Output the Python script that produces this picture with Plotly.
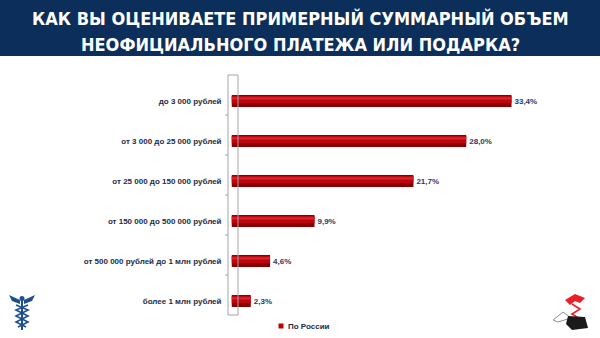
import plotly.graph_objects as go

# Survey answers: estimated total size of an informal payment or gift
categories = [
    "до 3 000 рублей",
    "от 3 000 до 25 000 рублей",
    "от 25 000 до 150 000 рублей",
    "от 150 000 до 500 000 рублей",
    "от 500 000 рублей до 1 млн рублей",
    "более 1 млн рублей",
]
values = [33.4, 28.0, 21.7, 9.9, 4.6, 2.3]
series_name = "По России"
title_lines = ["КАК ВЫ ОЦЕНИВАЕТЕ ПРИМЕРНЫЙ СУММАРНЫЙ ОБЪЕМ",
               "НЕОФИЦИАЛЬНОГО ПЛАТЕЖА ИЛИ ПОДАРКА?"]

W, H = 600, 338
NAVY = "#0b2f5a"
LABEL = "#1c2b48"
VALUE = "#1f3a70"

def px_x(x):
    return x / W

def px_y(y):
    return 1 - y / H

fig = go.Figure()

# cylinder body (dark edge)
fig.add_trace(go.Bar(
    y=categories, x=values, orientation="h",
    marker=dict(color="#8a0000", line=dict(width=0)),
    width=0.30, offset=-0.15,
    text=[f"{v:.1f}%".replace(".", ",") for v in values],
    textposition="outside", cliponaxis=False,
    textfont=dict(family="Liberation Sans", size=8, color=VALUE, weight="bold"),
    hoverinfo="skip", showlegend=False,
))
# cylinder mid tone
fig.add_trace(go.Bar(
    y=categories, x=values, orientation="h",
    marker=dict(color="#bb0610", line=dict(width=0)),
    width=0.18, offset=-0.125,
    hoverinfo="skip", showlegend=False,
))
# cylinder highlight
fig.add_trace(go.Bar(
    y=categories, x=values, orientation="h",
    marker=dict(color="#d8262c", line=dict(width=0)),
    width=0.06, offset=-0.095,
    hoverinfo="skip", showlegend=False,
))

x0_px, x_end_px = 231.5, 600
px_per_unit = (511.5 - x0_px) / 33.4
x_max = (x_end_px - x0_px) / px_per_unit

shapes = []
# title banner
shapes.append(dict(type="rect", xref="paper", yref="paper",
                   x0=0, x1=1, y0=px_y(56), y1=1,
                   fillcolor=NAVY, line=dict(width=0), layer="below"))
# 3D wall of the category axis
wall = dict(xref="paper", yref="paper", line=dict(color="#a6a6a6", width=1))
shapes.append(dict(type="line", x0=px_x(228), x1=px_x(228), y0=px_y(75), y1=px_y(315), **wall))
shapes.append(dict(type="line", x0=px_x(238), x1=px_x(238), y0=px_y(75), y1=px_y(315), **wall))
shapes.append(dict(type="line", x0=px_x(228), x1=px_x(238), y0=px_y(75), y1=px_y(75), **wall))
shapes.append(dict(type="line", x0=px_x(228), x1=px_x(238), y0=px_y(315), y1=px_y(315), **wall))
for ty in [115, 155, 195, 235, 275]:
    shapes.append(dict(type="line", x0=px_x(225), x1=px_x(228), y0=px_y(ty), y1=px_y(ty),
                       xref="paper", yref="paper", line=dict(color="#a6a6a6", width=1)))

# legend marker
shapes.append(dict(type="rect", xref="paper", yref="paper",
                   x0=px_x(278.5), x1=px_x(283.5), y0=px_y(328.5), y1=px_y(323.5),
                   fillcolor="#c00000", line=dict(width=0)))

# left emblem (caduceus, navy)
blue = "#1f4f8f"
def P(pts):
    return " ".join(("M" if i == 0 else "L") + f" {px_x(x):.4f},{px_y(y):.4f}" for i, (x, y) in enumerate(pts))
shapes.append(dict(type="path", xref="paper", yref="paper",
                   path=P([(9, 295), (20, 300), (20, 304), (12, 301)]) + " Z",
                   fillcolor=blue, line=dict(width=0)))
shapes.append(dict(type="path", xref="paper", yref="paper",
                   path=P([(35, 295), (24, 300), (24, 304), (32, 301)]) + " Z",
                   fillcolor=blue, line=dict(width=0)))
shapes.append(dict(type="line", xref="paper", yref="paper",
                   x0=px_x(22), x1=px_x(22), y0=px_y(298), y1=px_y(330),
                   line=dict(color=blue, width=2)))
shapes.append(dict(type="circle", xref="paper", yref="paper",
                   x0=px_x(19.5), x1=px_x(24.5), y0=px_y(301), y1=px_y(296),
                   fillcolor=blue, line=dict(width=0)))
shapes.append(dict(type="path", xref="paper", yref="paper",
                   path=P([(16, 305), (28, 310), (16, 316), (28, 322), (18, 327)]),
                   line=dict(color=blue, width=1.6)))
shapes.append(dict(type="path", xref="paper", yref="paper",
                   path=P([(28, 305), (16, 310), (28, 316), (16, 322), (26, 327)]),
                   line=dict(color=blue, width=1.6)))

# right emblem (red caduceus over a hand with an envelope)
red = "#e8202a"
shapes.append(dict(type="path", xref="paper", yref="paper",
                   path=P([(565, 300), (575, 294), (585, 298), (580, 303), (575, 301), (570, 305)]) + " Z",
                   fillcolor=red, line=dict(width=0)))
shapes.append(dict(type="path", xref="paper", yref="paper",
                   path=P([(572, 304), (580, 309), (572, 314), (580, 319)]),
                   line=dict(color=red, width=1.6)))
shapes.append(dict(type="path", xref="paper", yref="paper",
                   path=P([(553, 320), (563, 312), (571, 318), (558, 322)]) + " Z",
                   fillcolor="white", line=dict(color="#909090", width=1)))
shapes.append(dict(type="path", xref="paper", yref="paper",
                   path=P([(568, 316), (585, 317), (588, 328), (572, 330), (566, 324)]) + " Z",
                   fillcolor="#1a1a1a", line=dict(width=0)))

title_font = dict(family="DejaVu Sans Condensed", size=18, color="white", weight="bold")
annotations = [
    dict(text=title_lines[0], x=0.5, y=px_y(18), xref="paper", yref="paper",
         showarrow=False, xanchor="center", yanchor="middle", font=title_font),
    dict(text=title_lines[1], x=0.5, y=px_y(44), xref="paper", yref="paper",
         showarrow=False, xanchor="center", yanchor="middle", font=title_font),
    dict(text=series_name, x=px_x(286), y=px_y(326), xref="paper", yref="paper",
         showarrow=False, xanchor="left", yanchor="middle",
         font=dict(family="Liberation Sans", size=8, color=LABEL, weight="bold")),
]

fig.update_layout(
    width=W, height=H,
    margin=dict(l=0, r=0, t=0, b=0),
    paper_bgcolor="white", plot_bgcolor="rgba(0,0,0,0)",
    barmode="overlay",
    showlegend=False,
    separators=", ",
    shapes=shapes,
    annotations=annotations,
    xaxis=dict(domain=[px_x(x0_px), 1], range=[0, x_max],
               showgrid=False, zeroline=False, showticklabels=False, showline=False, fixedrange=True),
    yaxis=dict(domain=[px_y(321), px_y(81)], categoryorder="array", categoryarray=categories,
               autorange="reversed", showgrid=False, zeroline=False, showline=False,
               ticks="", ticklabelstandoff=9,
               tickfont=dict(family="Liberation Sans", size=8, color=LABEL, weight="bold"),
               fixedrange=True),
)

fig.write_html("out.html")
